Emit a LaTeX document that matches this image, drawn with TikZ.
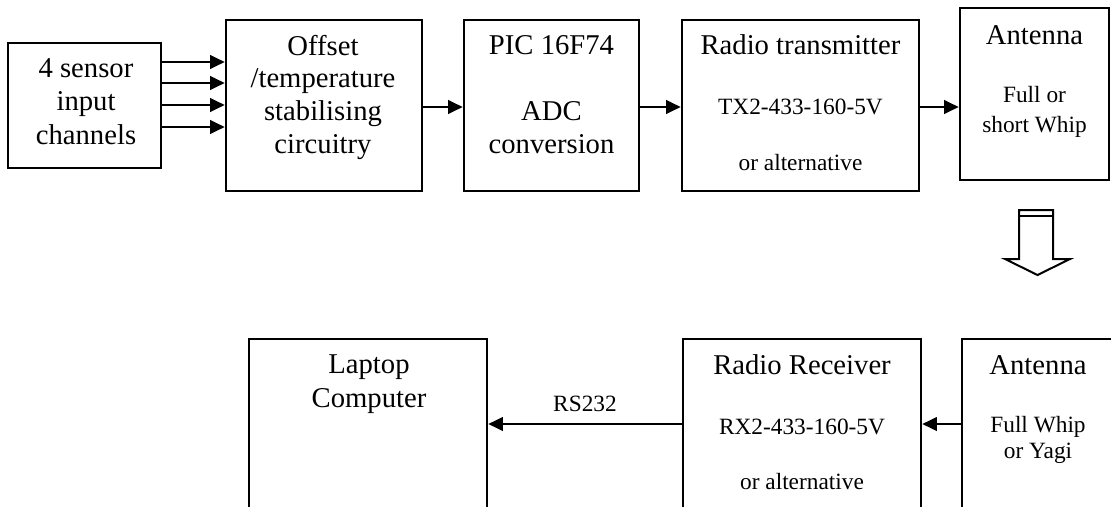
\documentclass[tikz,border=0pt]{standalone}
\usepackage{fontspec}
\setmainfont{Liberation Serif}
\usetikzlibrary{arrows.meta}

\tikzset{
  blk/.style={draw, line width=1.8pt, inner sep=0pt},
  bigtxt/.style={font=\fontsize{21.5}{25}\selectfont, align=center, inner sep=0pt},
  smalltxt/.style={font=\fontsize{17.5}{22}\selectfont, align=center, inner sep=0pt},
  feed/.style={line width=2pt, -{Triangle[length=11pt,width=10pt]}}
}

\begin{document}
\begin{tikzpicture}[x=0.75pt,y=-0.75pt]
\useasboundingbox (0,0) rectangle (1111,507);
\clip (0,0) rectangle (1111,507);
% transmitter side
\node[blk, minimum width=114.75pt, minimum height=93.75pt] (sensor) at (84.5,105.5) {};
\node[bigtxt] (sensortxt) at (86,101.5) {4 sensor\\input\\channels};
\node[blk, minimum width=147pt, minimum height=128.25pt] (offset) at (324,105.5) {};
\node[bigtxt, font=\fontsize{21.5}{24.5}\selectfont] (offsettxt) at (323,97) {Offset\\/temperature\\stabilising\\circuitry};
\node[blk, minimum width=131.25pt, minimum height=128.25pt] (pic) at (551.5,105.5) {};
\node[bigtxt] (pictitle) at (551.5,45) {PIC 16F74};
\node[bigtxt] (pictxt) at (551.5,127.5) {ADC\\conversion};
\node[blk, minimum width=177.75pt, minimum height=128.25pt] (radiotx) at (800.5,105.5) {};
\node[bigtxt] (radiotxtitle) at (800.5,45) {Radio transmitter};
\node[smalltxt] (radiotxpart) at (800.5,107) {TX2-433-160-5V};
\node[smalltxt] (radiotxalt) at (800.5,163) {or alternative};
\node[blk, minimum width=111.75pt, minimum height=129pt] (anttx) at (1034.5,94) {};
\node[bigtxt] (anttxtitle) at (1034.5,35) {Antenna};
\node[smalltxt] (anttxtxt) at (1034.5,112) {Full or\\short Whip};
% link down
\draw[line width=1.5pt, line join=miter] (1019,210) -- (1019,259) -- (1005,259) -- (1037.5,275)
  -- (1070,259) -- (1053,259) -- (1053,210) -- cycle;
\draw[line width=1.5pt] (1019,216) -- (1053,216);
% receiver side
\node[blk, minimum width=178.5pt, minimum height=150.75pt] (laptop) at (368,439.5) {};
\node[bigtxt] (laptoptxt) at (369,384) {Laptop\\Computer};
\node[blk, minimum width=178.5pt, minimum height=150.75pt] (radiorx) at (802,439.5) {};
\node[bigtxt] (radiorxtitle) at (802,365) {Radio Receiver};
\node[smalltxt] (radiorxpart) at (802,427) {RX2-433-160-5V};
\node[smalltxt] (radiorxalt) at (802,482) {or alternative};
\node[blk, minimum width=114pt, minimum height=150.75pt] (antrx) at (1038,439.5) {};
\node[bigtxt] (antrxtitle) at (1038,365) {Antenna};
\node[smalltxt, font=\fontsize{17.5}{20}\selectfont] (antrxtxt) at (1038,440) {Full Whip\\or Yagi};
% connections
\foreach \y in {62,83,105,127}
  \draw[feed] (sensor.east |- 0,\y) -- (offset.west |- 0,\y);
\draw[feed] (offset.east |- 0,107) -- (pic.west |- 0,107);
\draw[feed] (pic.east |- 0,107) -- (radiotx.west |- 0,107);
\draw[feed] (radiotx.east |- 0,107) -- (anttx.west |- 0,107);
\draw[feed] (antrx.west |- 0,424) -- (radiorx.east |- 0,424);
\draw[feed] (radiorx.west |- 0,424) -- node[smalltxt, above=8pt] (rslabel) {RS232} (laptop.east |- 0,424);
\end{tikzpicture}
\end{document}
